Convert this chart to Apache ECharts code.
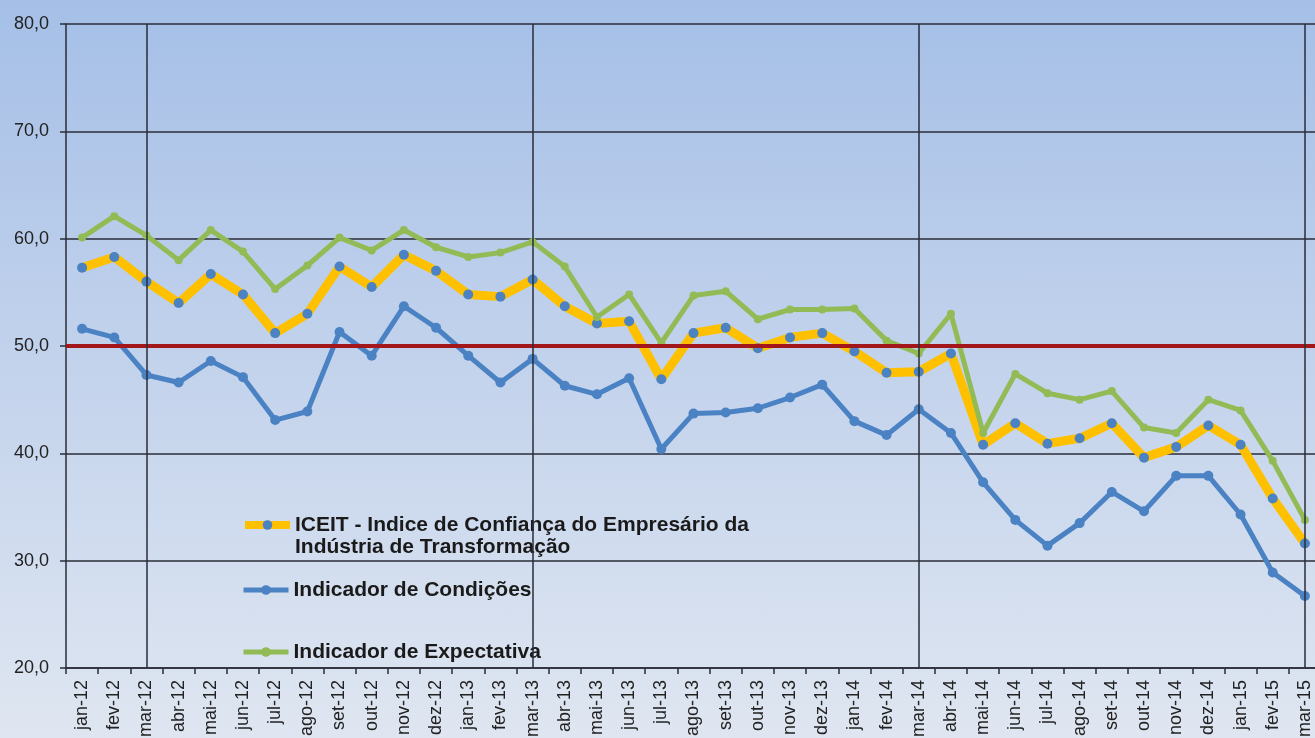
<!DOCTYPE html>
<html>
<head>
<meta charset="utf-8">
<title>ICEIT</title>
<script src="https://cdn.jsdelivr.net/npm/echarts@6/dist/echarts.min.js"></script>
<style>
  html, body {
    margin: 0;
    padding: 0;
  }
  body {
    background: linear-gradient(to bottom, #a5bfe7 0%, #c3d3ec 50%, #dfe6f1 100%);
  }
  #chart {
    width: 1315px;
    height: 738px;
  }
</style>
</head>
<body>
<div id="chart"></div>
<script>
// meses (eixo x)
const months = [
  'jan-12', 'fev-12', 'mar-12', 'abr-12', 'mai-12', 'jun-12', 'jul-12', 'ago-12', 'set-12', 'out-12', 'nov-12', 'dez-12',
  'jan-13', 'fev-13', 'mar-13', 'abr-13', 'mai-13', 'jun-13', 'jul-13', 'ago-13', 'set-13', 'out-13', 'nov-13', 'dez-13',
  'jan-14', 'fev-14', 'mar-14', 'abr-14', 'mai-14', 'jun-14', 'jul-14', 'ago-14', 'set-14', 'out-14', 'nov-14', 'dez-14',
  'jan-15', 'fev-15', 'mar-15'
];

// linhas verticais de referência (março de cada ano)
const marchMarks = ['mar-12', 'mar-13', 'mar-14', 'mar-15'];

const iceit = [
  57.3, 58.3, 56.0, 54.0, 56.7, 54.8, 51.2, 53.0, 57.4, 55.5, 58.5, 57.0,
  54.8, 54.6, 56.2, 53.7, 52.1, 52.3, 46.9, 51.2, 51.7, 49.8, 50.8, 51.2,
  49.5, 47.5, 47.6, 49.3, 40.8, 42.8, 40.9, 41.4, 42.8, 39.6, 40.6, 42.6,
  40.8, 35.8, 31.6
];

const condicoes = [
  51.6, 50.8, 47.3, 46.6, 48.6, 47.1, 43.1, 43.9, 51.3, 49.1, 53.7, 51.7,
  49.1, 46.6, 48.8, 46.3, 45.5, 47.0, 40.4, 43.7, 43.8, 44.2, 45.2, 46.4,
  43.0, 41.7, 44.1, 41.9, 37.3, 33.8, 31.4, 33.5, 36.4, 34.6, 37.9, 37.9,
  34.3, 28.9, 26.7
];

const expectativa = [
  60.1, 62.1, 60.3, 58.0, 60.8, 58.8, 55.3, 57.5, 60.1, 58.9, 60.8, 59.2,
  58.3, 58.7, 59.7, 57.4, 52.7, 54.8, 50.3, 54.7, 55.1, 52.5, 53.4, 53.4,
  53.5, 50.5, 49.3, 53.0, 41.9, 47.4, 45.6, 45.0, 45.8, 42.4, 41.9, 45.0,
  44.0, 39.3, 33.8
];

const referenceLevel = 50;

const nameIceit = 'ICEIT - Indice de Confiança do Empresário da\nIndústria de Transformação';
const nameCond = 'Indicador de Condições';
const nameExp = 'Indicador de Expectativa';

const font = "'Liberation Sans', Arial, sans-serif";
const darkLine = '#2a2d38';
const yellow = '#ffc000';
const blue = '#4a82c3';
const green = '#93bb55';

const chart = echarts.init(document.getElementById('chart'));

const legendBase = {
  orient: 'vertical',
  left: 236,
  itemWidth: 45,
  itemHeight: 12,
  itemGap: 0,
  selectedMode: false,
  textStyle: {
    fontFamily: font,
    fontSize: 21,
    fontWeight: 'bold',
    color: '#1a1a1a',
    lineHeight: 22,
    rich: {
      // linha vazia acima, para o ícone ficar alinhado com a 1ª linha
      e: { lineHeight: 22, fontSize: 21 },
    },
  },
};

const option = {
  backgroundColor: 'transparent',
  animation: false,
  grid: {
    left: 66,
    top: 24,
    width: 1255,
    height: 644,
    outerBoundsMode: 'none',
  },
  legend: [
    {
      ...legendBase,
      data: [nameIceit],
      top: 487,
      lineStyle: { width: 8 },
      formatter: (name) => '{e| }\n' + name,
    },
    { ...legendBase, data: [nameCond], top: 574, lineStyle: { width: 5 } },
    { ...legendBase, data: [nameExp], top: 636, lineStyle: { width: 5 } },
  ],
  xAxis: {
    type: 'category',
    data: months,
    boundaryGap: true,
    axisLine: { lineStyle: { color: darkLine, width: 1.5 } },
    axisTick: { show: true, length: 6, lineStyle: { color: darkLine, width: 1.5 } },
    axisLabel: {
      rotate: 90,
      interval: 0,
      margin: 12,
      fontFamily: font,
      fontSize: 18,
      color: '#222',
    },
    splitLine: { show: false },
  },
  yAxis: {
    type: 'value',
    min: 20,
    max: 80,
    interval: 10,
    axisLine: { show: true, lineStyle: { color: darkLine, width: 1.5 } },
    axisTick: { show: true, length: 6, lineStyle: { color: darkLine, width: 1.5 } },
    axisLabel: {
      margin: 17,
      fontFamily: font,
      fontSize: 18,
      color: '#222',
      formatter: (v) => v.toFixed(1).replace('.', ','),
    },
    splitLine: { lineStyle: { color: darkLine, width: 1.5 } },
  },
  series: [
    {
      name: nameIceit,
      type: 'line',
      data: iceit,
      symbol: 'circle',
      symbolSize: 10,
      itemStyle: { color: blue },
      lineStyle: { color: yellow, width: 9 },
      markLine: {
        silent: true,
        symbol: ['none', 'none'],
        label: { show: false },
        lineStyle: { color: '#a3161a', width: 4, type: 'solid' },
        data: [{ yAxis: referenceLevel }],
      },
    },
    {
      name: nameCond,
      type: 'line',
      data: condicoes,
      symbol: 'circle',
      symbolSize: 10,
      itemStyle: { color: blue },
      lineStyle: { color: blue, width: 5 },
      markLine: {
        silent: true,
        symbol: ['none', 'none'],
        label: { show: false },
        lineStyle: { color: darkLine, width: 1.5, type: 'solid' },
        data: marchMarks.map((m) => ({ xAxis: m })),
      },
    },
    {
      name: nameExp,
      type: 'line',
      data: expectativa,
      symbol: 'circle',
      symbolSize: 8,
      itemStyle: { color: green },
      lineStyle: { color: green, width: 5 },
    },
  ],
};

chart.setOption(option);
</script>
</body>
</html>
